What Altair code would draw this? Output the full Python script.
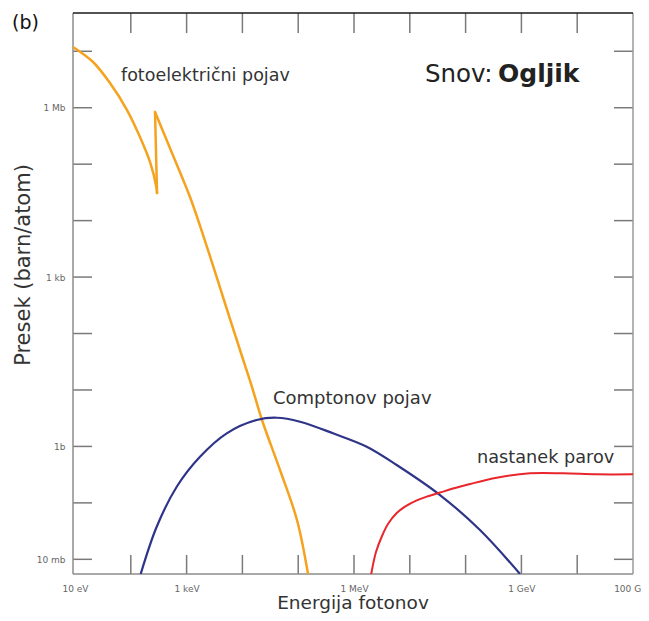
import altair as alt
import pandas as pd

# ---- data (log10 of energy in eV, log10 of cross section in barn/atom)
photo_logE = [0.964, 1.323, 1.627, 1.932, 2.165, 2.344, 2.461, 2.470, 2.434, 2.738, 3.061,
              3.366, 3.652, 3.957, 4.172, 4.351, 4.674, 4.978, 5.176]
photo_logS = [7.075, 6.81, 6.437, 5.959, 5.48, 5.04, 4.578, 4.489, 5.924, 5.198, 4.418,
              3.532, 2.647, 1.708, 1.052, 0.468, -0.418, -1.304, -2.26]
photo_edge_index = 7  # K-edge: the curve jumps from this point to the next one

compton_logE = [2.177, 2.464, 2.823, 3.240, 3.719, 4.256, 4.615, 5.032, 5.624, 6.228,
                6.765, 7.541, 8.258, 8.975]
compton_logS = [-2.26, -1.423, -0.714, -0.183, 0.232, 0.468, 0.508, 0.438, 0.232, -0.005,
                -0.329, -0.861, -1.481, -2.26]

pair_logE = [6.305, 6.394, 6.502, 6.609, 6.765, 6.914, 7.124, 7.326, 7.541, 7.810, 8.079,
             8.557, 9.154, 9.751, 10.349, 11.0]
pair_logS = [-2.28, -1.871, -1.587, -1.375, -1.180, -1.068, -0.957, -0.882, -0.817, -0.737, -0.666,
             -0.555, -0.476, -0.476, -0.494, -0.494]

x_tick_values = [1e2, 1e3, 1e4, 1e5, 1e6, 1e7, 1e8, 1e9, 1e10]
y_tick_values = [1e-2, 1e-1, 1e0, 1e1, 1e2, 1e3, 1e4, 1e5, 1e6, 1e7]

x_label_values = [1e1, 1e3, 1e6, 1e9, 1e11]
x_label_texts = ["10 eV", "1 keV", "1 MeV", "1 GeV", "100 GeV"]
y_label_values = [1e-2, 1e0, 1e3, 1e6]
y_label_texts = ["10 mb", "1b", "1 kb", "1 Mb"]

FONT = "DejaVu Sans"
W, H = 560, 561
TICK = 19

# ---- tables
def seg_rows(le, ls, seg, start, stop):
    return [{"E": 10 ** le[i], "S": 10 ** ls[i], "seg": seg, "o": i} for i in range(start, stop)]

k = photo_edge_index
photo_df = pd.DataFrame(
    seg_rows(photo_logE, photo_logS, 0, 0, k + 1)
    + seg_rows(photo_logE, photo_logS, 1, k, k + 2)
    + seg_rows(photo_logE, photo_logS, 2, k + 1, len(photo_logE))
)
compton_df = pd.DataFrame({"E": [10 ** v for v in compton_logE], "S": [10 ** v for v in compton_logS]})
pair_df = pd.DataFrame({"E": [10 ** v for v in pair_logE], "S": [10 ** v for v in pair_logS]})
xt_df = pd.DataFrame({"v": x_tick_values})
yt_df = pd.DataFrame({"v": y_tick_values})
one = pd.DataFrame({"a": [0]})


def label_expr(vals, texts):
    import math
    parts = [f"round(log(datum.value)/LN10) == {round(math.log10(v))} ? '{t}' : " for v, t in zip(vals, texts)]
    return "".join(parts) + "''"


xscale = alt.Scale(type="log", domain=[10 ** 0.964, 1e11], nice=False)
yscale = alt.Scale(type="log", domain=[10 ** -2.26, 10 ** 7.678], nice=False)

xaxis = alt.Axis(values=x_label_values, labelExpr=label_expr(x_label_values, x_label_texts),
                 ticks=False, domain=False, grid=False, title=None, labelFont=FONT,
                 labelFontSize=9, labelColor="#666666", labelPadding=10,
                 labelOverlap=False, labelFlush=False, labelBound=False)
yaxis = alt.Axis(values=y_label_values, labelExpr=label_expr(y_label_values, y_label_texts),
                 ticks=False, domain=False, grid=False, title=None, labelFont=FONT,
                 labelFontSize=9, labelColor="#666666", labelPadding=8,
                 labelOverlap=False, labelFlush=False, labelBound=False)

TICK_COLOR = "#7a7a7a"

bottom_ticks = alt.Chart(xt_df).mark_rule(color=TICK_COLOR, strokeWidth=1.5).encode(
    x=alt.X("v:Q", scale=xscale, axis=xaxis), y=alt.value(H), y2=alt.value(H - TICK))
top_ticks = alt.Chart(xt_df).mark_rule(color=TICK_COLOR, strokeWidth=1.5).encode(
    x=alt.X("v:Q", scale=xscale, axis=xaxis), y=alt.value(0), y2=alt.value(TICK + 1))
left_ticks = alt.Chart(yt_df).mark_rule(color=TICK_COLOR, strokeWidth=1.5).encode(
    y=alt.Y("v:Q", scale=yscale, axis=yaxis), x=alt.value(0), x2=alt.value(TICK))
right_ticks = alt.Chart(yt_df).mark_rule(color=TICK_COLOR, strokeWidth=1.5).encode(
    y=alt.Y("v:Q", scale=yscale, axis=yaxis), x=alt.value(W), x2=alt.value(W - TICK))

border_left = alt.Chart(one).mark_rule(color="#8c8c8c", strokeWidth=1.5).encode(
    x=alt.value(0), y=alt.value(0), y2=alt.value(H))
border_bottom = alt.Chart(one).mark_rule(color="#8c8c8c", strokeWidth=1.5).encode(
    x=alt.value(0), x2=alt.value(W), y=alt.value(H))
border_right = alt.Chart(one).mark_rule(color="#9a9a9a", strokeWidth=1.5).encode(
    x=alt.value(W), y=alt.value(0), y2=alt.value(H))
border_top = alt.Chart(one).mark_rule(color="#1a1a1a", strokeWidth=1.5).encode(
    x=alt.value(0), x2=alt.value(W), y=alt.value(0))

photo = alt.Chart(photo_df).mark_line(color="#F5A21E", strokeWidth=2.5, clip=True,
                                      interpolate="catmull-rom", strokeCap="round", strokeJoin="round").encode(
    x=alt.X("E:Q", scale=xscale, axis=xaxis), y=alt.Y("S:Q", scale=yscale, axis=yaxis),
    detail="seg:N", order="o:Q")
compton = alt.Chart(compton_df).mark_line(color="#2E3488", strokeWidth=2.2, clip=True,
                                          interpolate="catmull-rom").encode(
    x=alt.X("E:Q", scale=xscale, axis=xaxis), y=alt.Y("S:Q", scale=yscale, axis=yaxis))
pair = alt.Chart(pair_df).mark_line(color="#E8262C", strokeWidth=2.0, clip=True,
                                    interpolate="catmull-rom").encode(
    x=alt.X("E:Q", scale=xscale, axis=xaxis), y=alt.Y("S:Q", scale=yscale, axis=yaxis))


def txt(s, x, y, size, color="#333333", weight="normal", align="left", baseline="alphabetic", angle=0):
    kw = dict(font=FONT, fontSize=size, color=color, fontWeight=weight, align=align, baseline=baseline)
    if angle:
        kw["angle"] = angle
    return alt.Chart(one).mark_text(**kw).encode(x=alt.value(x), y=alt.value(y), text=alt.value(s))


texts = [
    txt("(b)", -61, 16, 19, color="#111111"),
    txt("fotoelektrični pojav", 48, 68, 17.5),
    txt("Snov:", 352, 69, 24.5, color="#222222"),
    txt("Ogljik", 425, 69, 25, color="#222222", weight="bold"),
    txt("Comptonov pojav", 200, 391, 18),
    txt("nastanek parov", 404, 450, 17.7),
    txt("Presek (barn/atom)", -49, 252, 21, align="center", baseline="middle", angle=270),
    txt("Energija fotonov", 280, 596, 18.5, align="center"),
]

chart = alt.layer(
    bottom_ticks, top_ticks, left_ticks, right_ticks,
    border_left, border_bottom, border_right, border_top,
    photo, compton, pair, *texts
).properties(
    width=W, height=H,
    padding={"left": 65, "top": 5, "right": 8, "bottom": 39},
    autosize=alt.AutoSizeParams(type="none"),
    background="white",
).configure_view(stroke=None)

chart.save("out.html", embed_options={"renderer": "svg", "actions": False})
